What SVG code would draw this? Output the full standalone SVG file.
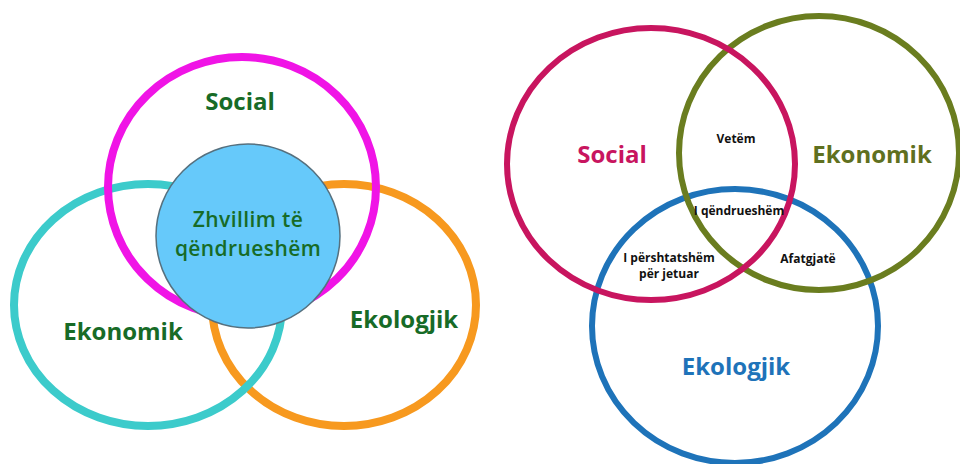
<svg xmlns="http://www.w3.org/2000/svg" width="960" height="464" viewBox="0 0 960 464">
<style>
.ring{fill:none}
.l{stroke-width:8}
.r{stroke-width:6}
text{font-family:"Open Sans","Liberation Sans",sans-serif;text-anchor:middle}
.big{font-weight:700;font-size:24px}
.gr{fill:#176b27}
.sm{font-weight:700;font-size:12px;fill:#111}
.ct{font-size:21px;font-weight:600;letter-spacing:0.4px}
</style>
<rect width="960" height="464" fill="#fff"/>
<g id="left">
  <g id="l-ekologjik"><ellipse class="ring l" cx="344" cy="305" rx="132" ry="121" stroke="#f7991f"/></g>
  <g id="l-ekonomik"><ellipse class="ring l" cx="148" cy="305" rx="134" ry="121" stroke="#3ccbcb"/></g>
  <g id="l-social"><ellipse class="ring l" cx="242" cy="187" rx="134" ry="130" stroke="#f014e6"/></g>
  <g id="l-center">
    <circle cx="248" cy="236" r="92" fill="#66c9fa" stroke="#56707e" stroke-width="1.5"/>
    <text class="gr ct" x="248" y="227">Zhvillim të</text>
    <text class="gr ct" x="248" y="256">qëndrueshëm</text>
  </g>
  <text class="big gr" x="240" y="110">Social</text>
  <text class="big gr" x="123" y="340">Ekonomik</text>
  <text class="big gr" x="404" y="328">Ekologjik</text>
</g>
<g id="right">
  <g id="r-ekologjik"><ellipse class="ring r" cx="735" cy="326" rx="143" ry="137" stroke="#1e73b9"/></g>
  <g id="r-ekonomik"><ellipse class="ring r" cx="819" cy="153" rx="140" ry="137" stroke="#6a7d1f"/></g>
  <g id="r-social"><ellipse class="ring r" cx="651" cy="164" rx="144" ry="136" stroke="#c8155f"/></g>
  <text class="big" x="612" y="163" fill="#c8155f">Social</text>
  <text class="big" x="872" y="163" fill="#5f7020">Ekonomik</text>
  <text class="big" x="736" y="375" fill="#1e73b9">Ekologjik</text>
  <text class="sm" x="736" y="143">Vetëm</text>
  <text class="sm" x="739" y="215" font-size="9.5">I qëndrueshëm</text>
  <text class="sm" x="669" y="262">I përshtatshëm</text>
  <text class="sm" x="669" y="278">për jetuar</text>
  <text class="sm" x="808" y="263">Afatgjatë</text>
</g>
</svg>
